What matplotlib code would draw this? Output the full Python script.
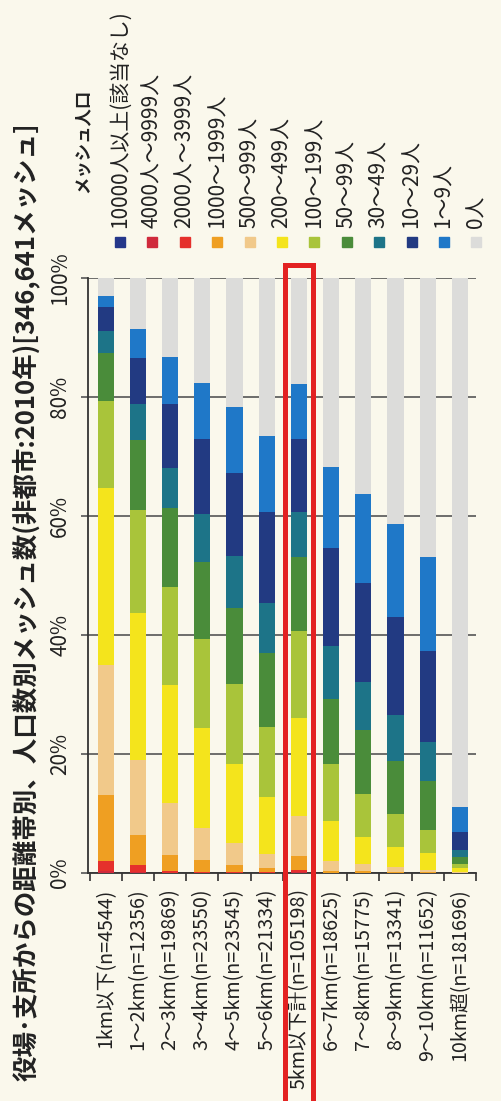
import matplotlib
matplotlib.use("Agg")
import matplotlib.pyplot as plt
import matplotlib.transforms as mtransforms
from matplotlib.patches import Rectangle
import numpy as np

plt.rcParams['font.family'] = ['Noto Sans CJK JP', 'DejaVu Sans']

title = "役場･支所からの距離帯別、人口数別メッシュ数(非都市:2010年)[346,641メッシュ]"
legend_title = "メッシュ人口"

categories = ["1km以下(n=4544)", "1～2km(n=12356)", "2～3km(n=19869)",
              "3～4km(n=23550)", "4～5km(n=23545)", "5～6km(n=21334)",
              "5km以下計(n=105198)", "6～7km(n=18625)", "7～8km(n=15775)",
              "8～9km(n=13341)", "9～10km(n=11652)", "10km超(n=181696)"]

# share of meshes (%) by population class, bottom of the stack first
p10000 = [0, 0, 0, 0, 0, 0, 0, 0, 0, 0, 0, 0]
p4000 = [0.3, 0.2, 0, 0, 0, 0, 0.1, 0, 0, 0, 0, 0]
p2000 = [1.8, 1.1, 0.3, 0.2, 0.1, 0.1, 0.4, 0, 0, 0, 0, 0]
p1000 = [11.0, 5.1, 2.8, 2.0, 1.2, 0.7, 2.4, 0.4, 0.3, 0.2, 0.1, 0]
p500 = [21.9, 12.6, 8.7, 5.3, 3.7, 2.4, 6.7, 1.7, 1.2, 0.8, 0.4, 0.1]
p200 = [29.7, 24.7, 19.8, 16.9, 13.3, 9.5, 16.5, 6.7, 4.6, 3.3, 2.8, 0.8]
p100 = [14.6, 17.3, 16.5, 15.0, 13.4, 11.9, 14.6, 9.5, 7.2, 5.7, 4.0, 0.6]
p50 = [8.1, 11.7, 13.2, 12.9, 12.9, 12.4, 12.4, 10.9, 10.7, 8.9, 8.2, 1.2]
p30 = [3.7, 6.1, 6.7, 8.1, 8.6, 8.4, 7.6, 8.9, 8.1, 7.7, 6.5, 1.2]
p10 = [4.1, 7.7, 10.9, 12.5, 14.1, 15.2, 12.2, 16.6, 16.6, 16.4, 15.3, 3.0]
p1 = [1.8, 5.0, 7.9, 9.5, 11.1, 12.8, 9.3, 13.5, 15.0, 15.7, 15.8, 4.2]
p0 = [3.0, 8.5, 13.2, 17.6, 21.6, 26.6, 17.8, 31.8, 36.3, 41.3, 46.9, 88.9]

series = [p10000, p4000, p2000, p1000, p500, p200, p100, p50, p30, p10, p1, p0]
labels = ["10000人以上(該当なし)", "4000人～9999人", "2000人～3999人", "1000～1999人",
          "500～999人", "200～499人", "100～199人", "50～99人", "30～49人",
          "10～29人", "1～9人", "0人"]
colors = ["#24378a", "#d02a3c", "#e5302c", "#ef9f22", "#f1c98a", "#f4e41c",
          "#a9c43a", "#4a8c3a", "#1d7488", "#223a82", "#1f78c8", "#dcdcda"]

bg = "#faf8ec"
W, H = 502, 1101
fig = plt.figure(figsize=(W / 100, H / 100), dpi=100, facecolor=bg)
ax = fig.add_axes([88 / W, 1 - 873 / H, (476 - 88) / W, (873 - 278) / H], facecolor=bg)

x = np.arange(len(categories))
bottom = np.zeros(len(categories))
for vals, col in zip(series, colors):
    ax.bar(x, vals, 0.5, bottom=bottom, color=col, zorder=3)
    bottom += np.array(vals)

ax.set_xlim(-0.55, 11.5)
ax.set_ylim(0, 100)
ax.set_yticks([0, 20, 40, 60, 80, 100])
ax.set_yticklabels(["0%", "20%", "40%", "60%", "80%", "100%"], rotation=90,
                   va="center", fontsize=15, color="#222222")
ax.yaxis.grid(True, color="#555555", linewidth=1.2, zorder=0)
ax.tick_params(axis="y", length=5, width=1.2, color="#555555", pad=7)

ax.set_xticks(x)
ax.set_xticklabels(categories, rotation=90, fontsize=14.2, color="#222222")
ax.set_xticks(np.arange(-0.5, 12, 1), minor=True)
ax.tick_params(axis="x", which="major", length=0, pad=11)
ax.tick_params(axis="x", which="minor", length=6, width=1.2, color="#333333")

for s in ["top", "right"]:
    ax.spines[s].set_visible(False)
ax.spines["left"].set_color("#333333")
ax.spines["left"].set_linewidth(1.3)
ax.spines["bottom"].set_color("#333333")
ax.spines["bottom"].set_linewidth(1.3)

# title, rotated along the left edge
fig.text(26 / W, 1 - 602 / H, title, rotation=90, ha="center", va="center",
         fontsize=18.4, fontweight="bold", color="#222222")

# legend drawn by hand as vertical columns
fig.text(83 / W, 1 - 193 / H, legend_title, rotation=90, ha="center", va="bottom",
         fontsize=12.5, fontweight="bold", color="#222222")
for i, (lab, col) in enumerate(zip(labels, colors)):
    cx = 120 + 32.4 * i
    fig.add_artist(Rectangle(((cx - 5) / W, 1 - 247 / H), 10 / W, 10 / H,
                             transform=fig.transFigure, color=col))
    fig.text(cx / W, 1 - 228 / H, lab, rotation=90, ha="center", va="bottom",
             fontsize=15, color="#222222")

# red highlight around the 5km total bar
trans = mtransforms.blended_transform_factory(ax.transData, fig.transFigure)
ax.add_patch(Rectangle((6 - 0.43, -0.02), 0.86, 1.02 - 265 / H, transform=trans,
                       fill=False, edgecolor="#e32222", linewidth=3.6,
                       clip_on=False, zorder=10))

fig.savefig("out.png", dpi=100, facecolor=bg)
